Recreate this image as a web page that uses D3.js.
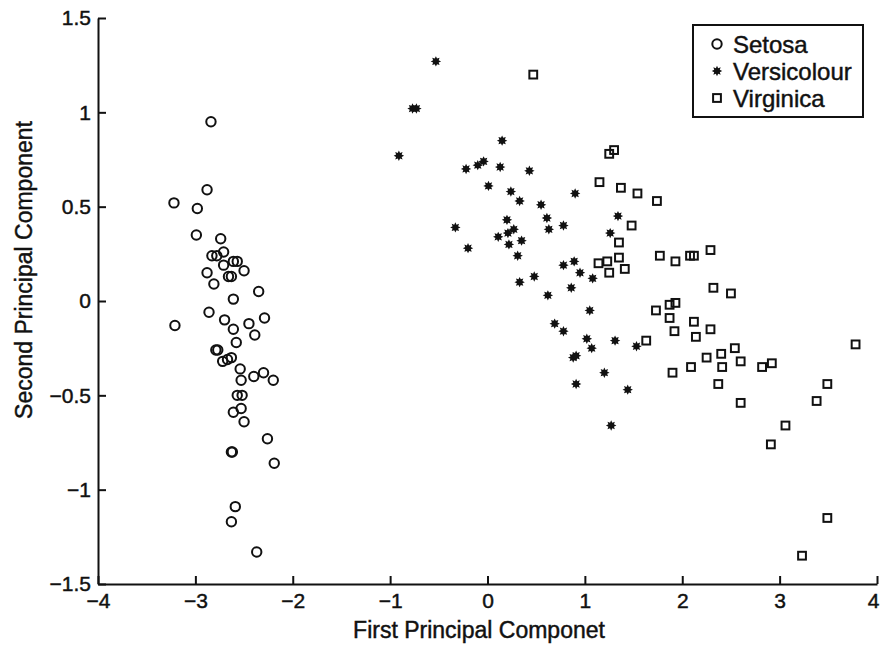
<!doctype html>
<html>

<head>
    <meta charset="UTF-8">
    <title>Iris PCA</title>
    <script src="https://d3js.org/d3.v7.min.js"></script>
    <style>
        body { margin: 0; background: #fff; }
        text { font-family: "Liberation Sans", Arial, Helvetica, sans-serif; fill: #111; stroke: #111; stroke-width: 0.45px; }
    </style>
</head>

<body>
    <script>
        var width = 880;
        var height = 657;

        // values
        var setosaX = [-2.84, -2.88, -3.22, -2.98, -2.99, -2.74, -2.71, -2.83, -2.78, -2.61, -2.57, -2.71, -2.88, -2.50, -2.66, -2.63, -2.81, -2.35, -2.61, -2.86, -3.21, -2.70, -2.45, -2.29, -2.61, -2.39, -2.58, -2.79, -2.77, -2.72, -2.67, -2.63, -2.54, -2.40, -2.30, -2.20, -2.53, -2.57, -2.52, -2.53, -2.61, -2.50, -2.26, -2.63, -2.62, -2.19, -2.59, -2.63, -2.37];
        var setosaY = [0.95, 0.59, 0.52, 0.49, 0.35, 0.33, 0.26, 0.24, 0.24, 0.21, 0.21, 0.19, 0.15, 0.16, 0.13, 0.13, 0.09, 0.05, 0.01, -0.06, -0.13, -0.10, -0.12, -0.09, -0.15, -0.18, -0.22, -0.26, -0.26, -0.32, -0.31, -0.30, -0.36, -0.40, -0.38, -0.42, -0.42, -0.50, -0.50, -0.57, -0.59, -0.64, -0.73, -0.80, -0.80, -0.86, -1.09, -1.17, -1.33];

        var versicolourX = [-0.53, -0.77, -0.73, -0.91, 0.15, -0.22, -0.10, -0.04, 0.13, 0.43, 0.01, 0.24, 0.33, 0.90, 0.55, 0.61, 0.20, -0.33, 0.78, 0.63, 0.21, 0.27, 0.11, 0.35, 0.22, -0.20, 0.31, 1.34, 1.26, 0.78, 0.89, 0.95, 1.08, 0.33, 0.48, 0.86, 0.62, 1.05, 0.69, 0.78, 1.02, 1.07, 1.31, 1.53, 0.88, 0.91, 1.20, 0.91, 1.44, 1.27];
        var versicolourY = [1.27, 1.02, 1.02, 0.77, 0.85, 0.70, 0.72, 0.74, 0.71, 0.69, 0.61, 0.58, 0.53, 0.57, 0.51, 0.44, 0.43, 0.39, 0.40, 0.38, 0.36, 0.38, 0.34, 0.32, 0.30, 0.28, 0.24, 0.45, 0.36, 0.19, 0.21, 0.15, 0.12, 0.10, 0.13, 0.07, 0.03, -0.05, -0.12, -0.16, -0.20, -0.25, -0.21, -0.24, -0.30, -0.29, -0.38, -0.44, -0.47, -0.66];

        var virginicaX = [0.47, 1.25, 1.30, 1.15, 1.37, 1.54, 1.74, 1.48, 1.35, 1.77, 1.93, 1.35, 1.23, 1.14, 1.25, 1.41, 2.08, 2.12, 2.29, 2.32, 2.50, 1.73, 1.87, 1.93, 1.87, 2.12, 1.92, 2.14, 2.29, 1.63, 2.54, 2.40, 2.25, 2.60, 2.41, 2.09, 1.90, 2.82, 2.92, 3.78, 2.37, 2.60, 3.49, 3.38, 3.06, 2.91, 3.49, 3.23];
        var virginicaY = [1.20, 0.78, 0.80, 0.63, 0.60, 0.57, 0.53, 0.40, 0.31, 0.24, 0.21, 0.23, 0.21, 0.20, 0.15, 0.17, 0.24, 0.24, 0.27, 0.07, 0.04, -0.05, -0.02, -0.01, -0.09, -0.11, -0.16, -0.19, -0.15, -0.21, -0.25, -0.28, -0.30, -0.32, -0.35, -0.35, -0.38, -0.35, -0.33, -0.23, -0.44, -0.54, -0.44, -0.53, -0.66, -0.76, -1.15, -1.35];

        var seriesNames = ["Setosa", "Versicolour", "Virginica"];
        var xTicks = [-4, -3, -2, -1, 0, 1, 2, 3, 4];
        var yTicks = [-1.5, -1, -0.5, 0, 0.5, 1, 1.5];

        var x = d3.scaleLinear().domain([-4, 4]).range([98, 877]);
        var y = d3.scaleLinear().domain([-1.5, 1.5]).range([584, 18]);

        var svg = d3.select("body").append("svg")
            .attr("width", width)
            .attr("height", height);

        // axes, ticks pointing inward, no box
        var fmt = d3.format("~g");
        var xAxis = svg.append("g")
            .attr("transform", "translate(0," + y(-1.5) + ")")
            .call(d3.axisBottom(x).tickValues(xTicks).tickFormat(fmt).tickSizeInner(-8).tickSizeOuter(0).tickPadding(9));
        var yAxis = svg.append("g")
            .attr("transform", "translate(" + x(-4) + ",0)")
            .call(d3.axisLeft(y).tickValues(yTicks).tickFormat(fmt).tickSizeInner(-8).tickSizeOuter(0).tickPadding(7));

        [xAxis, yAxis].forEach(function (a) {
            a.select(".domain").attr("stroke", "#111").attr("stroke-width", 2);
            a.selectAll(".tick line").attr("stroke", "#111").attr("stroke-width", 2);
            a.selectAll(".tick text")
                .attr("fill", "#111")
                .style("font-size", "21px")
                .style("font-family", "'Liberation Sans', Arial, sans-serif");
        });
        // keep the last x label inside the page
        xAxis.selectAll(".tick text").filter(function (d) { return d === 4; })
            .attr("text-anchor", "end").attr("x", 2);

        // axis titles
        svg.append("text")
            .attr("x", 479)
            .attr("y", 638)
            .attr("text-anchor", "middle")
            .style("font-size", "23px")
            .text("First Principal Componet");

        svg.append("text")
            .attr("transform", "translate(32,270) rotate(-90)")
            .attr("text-anchor", "middle")
            .style("font-size", "23px")
            .text("Second Principal Component");

        // marker shapes
        function starPath(r1, r2) {
            var pts = [];
            for (var k = 0; k < 16; k++) {
                var r = k % 2 === 0 ? r1 : r2;
                var a = k * Math.PI / 8;
                pts.push([r * Math.sin(a), -r * Math.cos(a)]);
            }
            return "M" + pts.map(function (p) { return p[0].toFixed(2) + "," + p[1].toFixed(2); }).join("L") + "Z";
        }
        var star = starPath(5.2, 3.0);

        function drawMarker(g, type) {
            if (type === 0) {
                g.append("circle").attr("r", 4.7)
                    .attr("fill", "none").attr("stroke", "#111").attr("stroke-width", 2);
            } else if (type === 1) {
                g.append("path").attr("d", star).attr("fill", "#111");
            } else {
                g.append("rect").attr("x", -3.9).attr("y", -3.9).attr("width", 7.8).attr("height", 7.8)
                    .attr("fill", "none").attr("stroke", "#111").attr("stroke-width", 2);
            }
        }

        var groups = [
            d3.zip(setosaX, setosaY),
            d3.zip(versicolourX, versicolourY),
            d3.zip(virginicaX, virginicaY)
        ];

        groups.forEach(function (pts, i) {
            svg.append("g").selectAll("g").data(pts).enter().append("g")
                .attr("transform", function (d) { return "translate(" + x(d[0]) + "," + y(d[1]) + ")"; })
                .each(function () { drawMarker(d3.select(this), i); });
        });

        // legend
        var legend = svg.append("g");
        legend.append("rect")
            .attr("x", 693).attr("y", 25).attr("width", 170).attr("height", 92)
            .attr("fill", "#fff").attr("stroke", "#111").attr("stroke-width", 2);
        seriesNames.forEach(function (name, i) {
            var row = legend.append("g").attr("transform", "translate(0," + (44 + i * 27) + ")");
            var m = row.append("g").attr("transform", "translate(717,0)");
            drawMarker(m, i);
            row.append("text")
                .attr("x", 733)
                .attr("y", 8.5)
                .style("font-size", "24px")
                .text(name);
        });
    </script>
</body>

</html>
